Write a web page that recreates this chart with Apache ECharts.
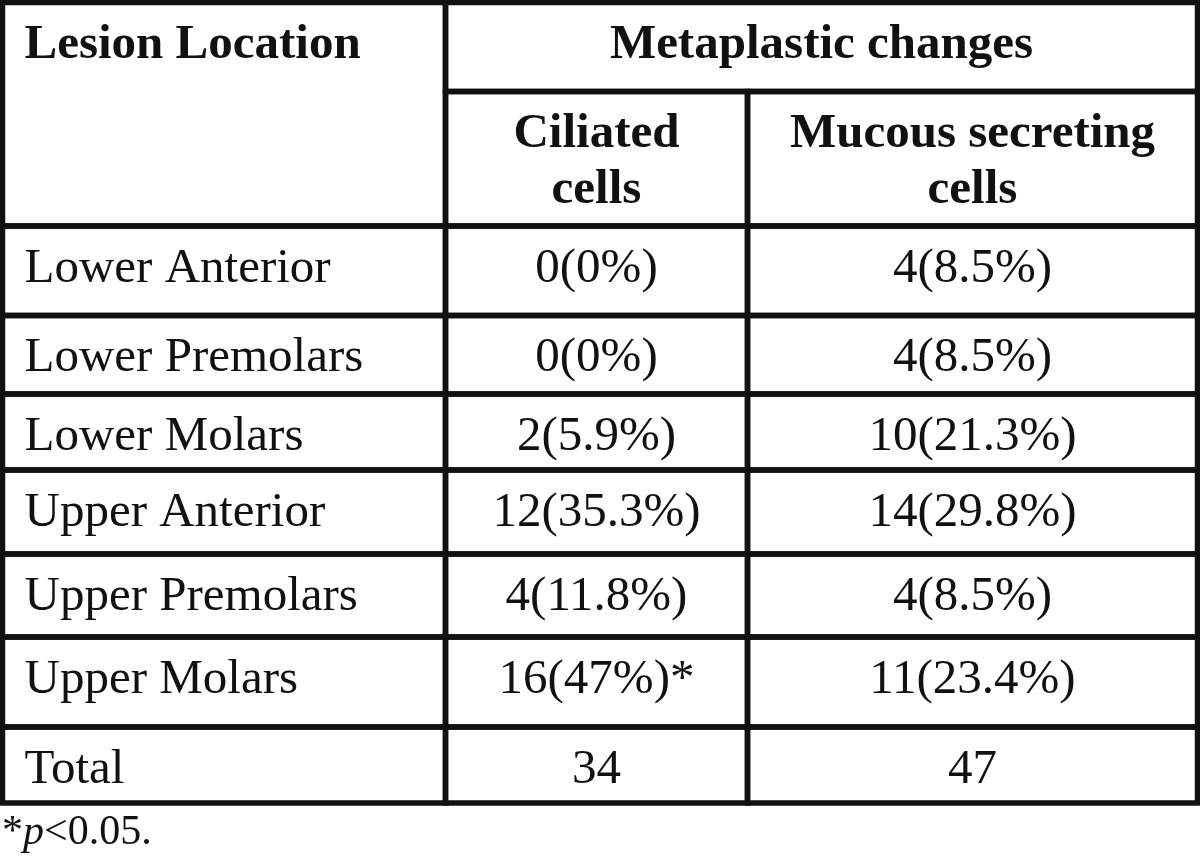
<!DOCTYPE html>
<html><head><meta charset="utf-8">
<script src="https://cdn.jsdelivr.net/npm/echarts@6/dist/echarts.min.js"></script>
<style>html,body{margin:0;padding:0;background:#fff}#main{width:1200px;height:863px}</style>
</head><body><div id="main"></div>
<script>
// ---- data ----
const headerLabel = 'Lesion Location';
const groupLabel = 'Metaplastic changes';
const columnLabels = ['Ciliated\ncells', 'Mucous secreting\ncells'];
const categories = ['Lower Anterior', 'Lower Premolars', 'Lower Molars', 'Upper Anterior', 'Upper Premolars', 'Upper Molars'];
const ciliatedCounts = [0, 0, 2, 12, 4, 16];
const ciliatedPercents = [0, 0, 5.9, 35.3, 11.8, 47];
const ciliatedSignificant = [false, false, false, false, false, true];
const mucousCounts = [4, 4, 10, 14, 4, 11];
const mucousPercents = [8.5, 8.5, 21.3, 29.8, 8.5, 23.4];
const totalLabel = 'Total';
const totals = [34, 47];
const footnoteMark = '*';
const footnoteSymbol = 'p';
const footnoteRest = '<0.05.';

// ---- layout (table grid in page units) ----
const colEdges = [2.5, 445.5, 747.5, 1197.5];
const rowEdges = [2.5, 91.5, 226, 315.5, 394, 470, 554, 637, 727, 803];
const FONT = '"Liberation Serif","Times New Roman",serif';
const FS = 49;

const cells = [];
cells.push({c0: 0, c1: 1, r0: 0, r1: 2, text: headerLabel, align: 'left', bold: true});
cells.push({c0: 1, c1: 3, r0: 0, r1: 1, text: groupLabel, align: 'center', bold: true});
columnLabels.forEach((t, i) => cells.push({c0: 1 + i, c1: 2 + i, r0: 1, r1: 2, text: t, align: 'center', bold: true}));
categories.forEach((cat, i) => {
  const r = 2 + i;
  cells.push({c0: 0, c1: 1, r0: r, r1: r + 1, text: cat, align: 'left'});
  cells.push({c0: 1, c1: 2, r0: r, r1: r + 1, text: ciliatedCounts[i] + '(' + ciliatedPercents[i] + '%)' + (ciliatedSignificant[i] ? '*' : ''), align: 'center'});
  cells.push({c0: 2, c1: 3, r0: r, r1: r + 1, text: mucousCounts[i] + '(' + mucousPercents[i] + '%)', align: 'center'});
});
const tr = 2 + categories.length;
cells.push({c0: 0, c1: 1, r0: tr, r1: tr + 1, text: totalLabel, align: 'left'});
totals.forEach((v, i) => cells.push({c0: 1 + i, c1: 2 + i, r0: tr, r1: tr + 1, text: String(v), align: 'center'}));

const chart = echarts.init(document.getElementById('main'), null, {renderer: 'canvas'});
chart.setOption({
  animation: false,
  backgroundColor: '#ffffff',
  grid: {left: 0, top: 0, right: 0, bottom: 0},
  xAxis: {type: 'value', min: 0, max: 1200, show: false},
  yAxis: {type: 'value', min: 0, max: 863, inverse: true, show: false},
  series: [{
    type: 'custom',
    coordinateSystem: 'cartesian2d',
    data: cells.map(c => [colEdges[c.c0], rowEdges[c.r0], colEdges[c.c1], rowEdges[c.r1]]),
    renderItem: function (params, api) {
      const cell = cells[params.dataIndex];
      const p0 = api.coord([api.value(0), api.value(1)]);
      const p1 = api.coord([api.value(2), api.value(3)]);
      const tx = cell.align === 'left' ? p0[0] + 22 : (p0[0] + p1[0]) / 2;
      return {
        type: 'group',
        children: [
          {type: 'rect', shape: {x: p0[0], y: p0[1], width: p1[0] - p0[0], height: p1[1] - p0[1]},
           style: {fill: 'transparent', stroke: '#111111', lineWidth: 5.5}},
          {type: 'text', x: tx, y: p0[1] + 15,
           style: {text: cell.text, fill: '#111111', align: cell.align, verticalAlign: 'top',
                   font: (cell.bold ? 'bold ' : '') + FS + 'px ' + FONT, lineHeight: 56}}
        ]
      };
    }
  }],
  graphic: [{
    type: 'text', x: 2, y: 812,
    style: {
      text: '{a|' + footnoteMark + '}{i|' + footnoteSymbol + '}{a|' + footnoteRest + '}',
      verticalAlign: 'top',
      rich: {
        a: {fontFamily: FONT, fontSize: 42, fill: '#111111', lineHeight: 42},
        i: {fontFamily: FONT, fontSize: 42, fontStyle: 'italic', fill: '#111111', lineHeight: 42}
      }
    }
  }]
});
</script></body></html>
